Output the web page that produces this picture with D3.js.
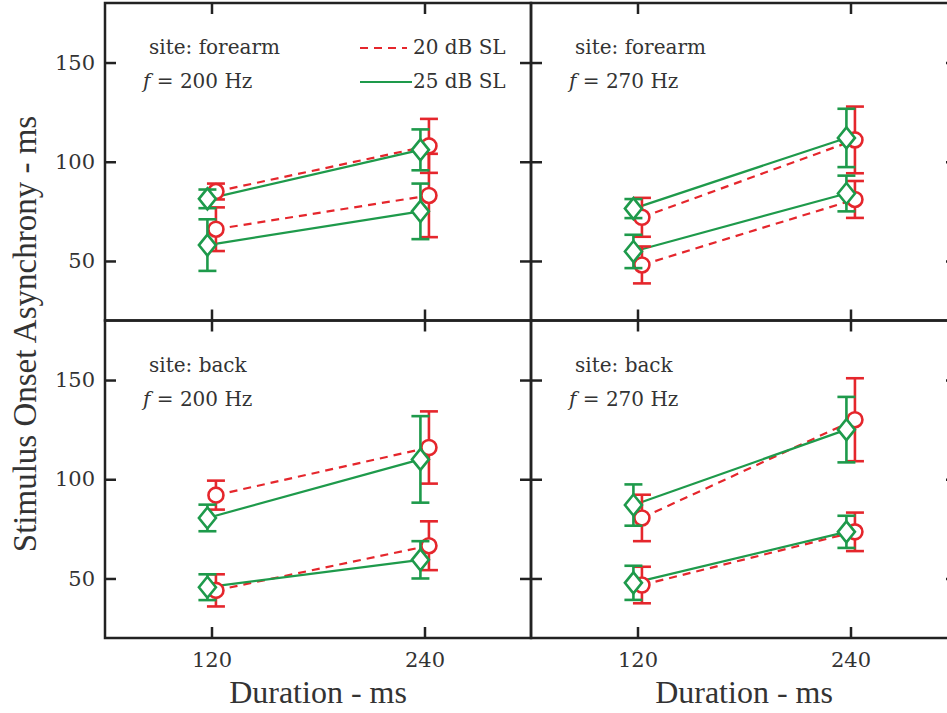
<!DOCTYPE html>
<html>
<head>
<meta charset="utf-8">
<script src="https://cdn.jsdelivr.net/npm/d3@7"></script>
<style>
  body { margin: 0; background: #fff; }
  svg { display: block; }
</style>
</head>
<body>
<div id="chart"></div>
<script>
// ---- data ----
var durations = [120, 240];
var yTicks = [50, 100, 150];
var siteLabels = ["forearm", "forearm", "back", "back"];
var freqLabels = [200, 270, 200, 270];
var legendLabels = ["20 dB SL", "25 dB SL"];

// per panel: [upper pair, lower pair], each [value@120, value@240]
var mean20 = [
  [[85, 108], [66, 83]],
  [[72, 111], [48, 81]],
  [[92, 116], [44, 66.5]],
  [[80.5, 130], [46.7, 73.5]]
];
var err20 = [
  [[4, 13.6], [11, 21]],
  [[9.8, 16.8], [9.3, 9.3]],
  [[7.3, 18.2], [8.1, 12.3]],
  [[11.7, 20.9], [9.2, 9.7]]
];
var mean25 = [
  [[81.3, 106], [58, 75]],
  [[76.4, 112], [54.8, 84]],
  [[80.5, 110], [45.6, 59.4]],
  [[87, 125], [47.8, 73.5]]
];
var err25 = [
  [[4.7, 10.3], [13, 14]],
  [[4.8, 14.7], [8.4, 9]],
  [[6.7, 21.8], [6.5, 9.4]],
  [[10.4, 16.5], [8.6, 8.1]]
];

// small horizontal shift so the two levels don't overlap (data units)
var shift20 = 2.5;
var shift25 = -2.3;

// ---- layout ----
var svgWidth = 947;
var svgHeight = 713;
var margin = { left: 105, top: 3 };
var panelW = 426;
var panelH = 317.5;

var red = "#e5262c";
var green = "#1e9a4b";
var ink = "#222";

var svg = d3.select("#chart")
  .append("svg")
  .attr("width", svgWidth)
  .attr("height", svgHeight);

svg.append("rect")
  .attr("width", svgWidth)
  .attr("height", svgHeight)
  .attr("fill", "#fff");

var x = d3.scaleLinear().domain([60, 300]).range([0, panelW]);
var y = d3.scaleLinear().domain([20, 180]).range([panelH, 0]);

var line = d3.line()
  .x(d => x(d[0]))
  .y(d => y(d[1]));

var diamond = "M0,-10.5L8.5,0L0,10.5L-8.5,0Z";

function drawPanel(i) {
  var col = i % 2;
  var row = Math.floor(i / 2);
  var g = svg.append("g")
    .attr("transform", `translate(${margin.left + col * panelW}, ${margin.top + row * panelH})`);

  // axes: inward ticks on all four sides
  var bottom = g.append("g")
    .attr("transform", `translate(0, ${panelH})`)
    .call(d3.axisBottom(x).tickValues(durations).tickSizeInner(-11).tickSizeOuter(0)
      .tickPadding(14).tickFormat(row === 1 ? d3.format("d") : ""));
  var top = g.append("g")
    .call(d3.axisTop(x).tickValues(durations).tickSizeInner(-11).tickSizeOuter(0).tickFormat(""));
  var left = g.append("g")
    .call(d3.axisLeft(y).tickValues(yTicks).tickSizeInner(-11).tickSizeOuter(0)
      .tickPadding(10).tickFormat(col === 0 ? d3.format("d") : ""));
  var right = g.append("g")
    .attr("transform", `translate(${panelW}, 0)`)
    .call(d3.axisRight(y).tickValues(yTicks).tickSizeInner(-11).tickSizeOuter(0).tickFormat(""));

  [bottom, top, left, right].forEach(function(a) {
    a.select(".domain").remove();
    a.selectAll(".tick line").attr("stroke", ink).attr("stroke-width", 2.5);
    a.selectAll(".tick text")
      .attr("fill", "#333")
      .attr("font-family", "DejaVu Serif, serif")
      .attr("font-size", 21);
  });

  // frame
  g.append("rect")
    .attr("width", panelW)
    .attr("height", panelH)
    .attr("fill", "none")
    .attr("stroke", ink)
    .attr("stroke-width", 2.5);

  // panel text
  var label = g.append("g")
    .attr("font-family", "DejaVu Serif, serif")
    .attr("font-size", 20)
    .attr("fill", "#333");
  label.append("text")
    .attr("x", 44)
    .attr("y", 51)
    .text("site: " + siteLabels[i]);
  var ft = label.append("text")
    .attr("x", 38)
    .attr("y", 85);
  ft.append("tspan").attr("font-style", "italic").text("f");
  ft.append("tspan").text(" = " + freqLabels[i] + " Hz");

  // series
  var series = [
    { mean: mean20[i], err: err20[i], shift: shift20, color: red, dash: "8,6", shape: "circle" },
    { mean: mean25[i], err: err25[i], shift: shift25, color: green, dash: null, shape: "diamond" }
  ];

  series.forEach(function(s) {
    s.mean.forEach(function(pair) {
      var pts = durations.map((d, j) => [d + s.shift, pair[j]]);
      g.append("path")
        .attr("d", line(pts))
        .attr("fill", "none")
        .attr("stroke", s.color)
        .attr("stroke-width", 2.2)
        .attr("stroke-dasharray", s.dash);
    });
  });

  series.forEach(function(s) {
    s.mean.forEach(function(pair, k) {
      durations.forEach(function(d, j) {
        var cx = x(d + s.shift);
        var lo = y(pair[j] - s.err[k][j]);
        var hi = y(pair[j] + s.err[k][j]);
        var eb = g.append("g")
          .attr("stroke", s.color)
          .attr("stroke-width", 2.6);
        eb.append("line").attr("x1", cx).attr("x2", cx).attr("y1", lo).attr("y2", hi);
        eb.append("line").attr("x1", cx - 9).attr("x2", cx + 9).attr("y1", lo).attr("y2", lo);
        eb.append("line").attr("x1", cx - 9).attr("x2", cx + 9).attr("y1", hi).attr("y2", hi);
      });
    });
    s.mean.forEach(function(pair) {
      durations.forEach(function(d, j) {
        var cx = x(d + s.shift);
        var cy = y(pair[j]);
        if (s.shape === "circle") {
          g.append("circle")
            .attr("cx", cx).attr("cy", cy).attr("r", 7.5)
            .attr("fill", "#fff").attr("stroke", s.color).attr("stroke-width", 2.6);
        } else {
          g.append("path")
            .attr("d", diamond)
            .attr("transform", `translate(${cx}, ${cy})`)
            .attr("fill", "#fff").attr("stroke", s.color).attr("stroke-width", 2.6);
        }
      });
    });
  });

  // legend only in first panel
  if (i === 0) {
    var leg = g.append("g")
      .attr("font-family", "DejaVu Serif, serif")
      .attr("font-size", 20)
      .attr("fill", "#333");
    var legColors = [red, green];
    var legDash = ["8,6", null];
    legendLabels.forEach(function(t, k) {
      var ly = 45 + k * 34;
      leg.append("line")
        .attr("x1", 255).attr("x2", k === 0 ? 302 : 307)
        .attr("y1", ly).attr("y2", ly)
        .attr("stroke", legColors[k])
        .attr("stroke-width", 2.2)
        .attr("stroke-dasharray", legDash[k]);
      leg.append("text")
        .attr("x", 308)
        .attr("y", ly + 6)
        .text(t);
    });
  }
}

d3.range(4).forEach(drawPanel);

// axis titles
svg.append("text")
  .attr("transform", "translate(36, 334) rotate(-90)")
  .attr("text-anchor", "middle")
  .attr("font-family", "Liberation Serif, serif")
  .attr("font-size", 33)
  .attr("fill", "#333")
  .text("Stimulus Onset Asynchrony - ms");

[0, 1].forEach(function(col) {
  svg.append("text")
    .attr("x", margin.left + col * panelW + panelW / 2)
    .attr("y", 703)
    .attr("text-anchor", "middle")
    .attr("font-family", "Liberation Serif, serif")
    .attr("font-size", 32)
    .attr("fill", "#333")
    .text("Duration - ms");
});
</script>
</body>
</html>
